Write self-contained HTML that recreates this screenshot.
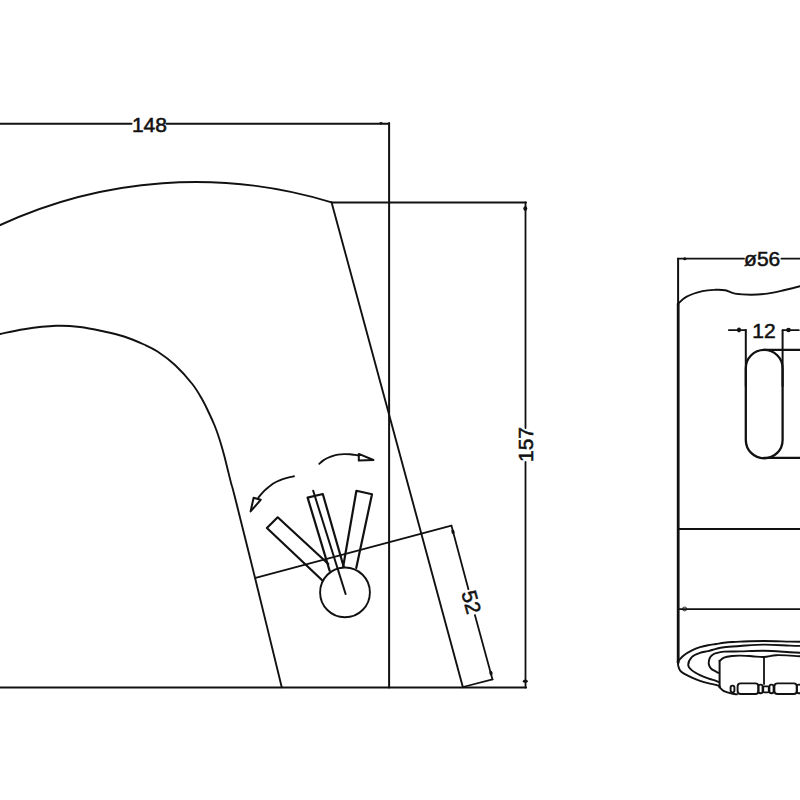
<!DOCTYPE html>
<html><head><meta charset="utf-8"><style>
html,body{margin:0;padding:0;background:#fff;}
body{width:800px;height:800px;overflow:hidden;}
svg{display:block;}
svg path, svg line, svg circle, svg rect{stroke:#111;fill:none;stroke-linecap:round;stroke-linejoin:round;}
svg text{font-family:"Liberation Sans", sans-serif;fill:#111;stroke:#111;stroke-width:0.55px;}
</style></head><body>
<svg width="800" height="800" viewBox="0 0 800 800">
<line x1="0.00" y1="123.80" x2="131.50" y2="123.80" stroke-width="2.1"/>
<line x1="166.50" y1="123.80" x2="389.10" y2="123.80" stroke-width="2.1"/>
<line x1="389.10" y1="123.00" x2="389.10" y2="687.50" stroke-width="2.0"/>
<text x="149.40" y="132.00" font-size="21" text-anchor="middle" >148</text>
<path d="M-2 226.03 A465 465 0 0 1 331.6 202.4" stroke-width="1.9" />
<line x1="331.60" y1="202.40" x2="526.00" y2="202.40" stroke-width="2.0"/>
<line x1="525.50" y1="202.40" x2="525.50" y2="428.00" stroke-width="1.8"/>
<line x1="525.50" y1="462.00" x2="525.50" y2="687.50" stroke-width="1.8"/>
<text x="533.20" y="444.50" font-size="21" text-anchor="middle" transform="rotate(-90.00 533.20 444.50)" >157</text>
<line x1="331.60" y1="202.40" x2="462.90" y2="687.20" stroke-width="1.9"/>
<line x1="-2.00" y1="687.50" x2="526.20" y2="687.50" stroke-width="1.8"/>
<path d="M-4.00 334.80 C-3.33 334.67 -4.67 334.93 0.00 334.00 C4.67 333.07 14.67 330.57 24.00 329.20 C33.33 327.83 46.67 326.17 56.00 325.80 C65.33 325.43 72.00 326.05 80.00 327.00 C88.00 327.95 96.67 329.92 104.00 331.50 C111.33 333.08 117.33 334.33 124.00 336.50 C130.67 338.67 138.42 342.00 144.00 344.50 C149.58 347.00 152.33 348.08 157.50 351.50 C162.67 354.92 169.17 359.54 175.00 365.00 C180.83 370.46 187.92 378.42 192.50 384.25 C197.08 390.08 199.79 395.29 202.50 400.00 C205.21 404.71 206.77 408.33 208.75 412.50 C210.73 416.67 212.84 421.25 214.40 425.00 C215.96 428.75 216.96 431.67 218.10 435.00 C219.24 438.33 220.20 441.46 221.25 445.00 C222.30 448.54 223.36 452.29 224.40 456.25 C225.44 460.21 226.36 464.17 227.50 468.75 C228.64 473.33 230.00 478.96 231.25 483.75 C232.50 488.54 230.54 479.79 235.00 497.50 C239.46 515.21 250.21 558.38 258.00 590.00 C265.79 621.62 277.79 671.00 281.75 687.20" stroke-width="1.9" />
<line x1="255.60" y1="577.90" x2="451.40" y2="525.60" stroke-width="1.8"/>
<line x1="451.40" y1="525.60" x2="468.40" y2="589.20" stroke-width="1.8"/>
<line x1="474.90" y1="615.00" x2="492.50" y2="679.40" stroke-width="1.8"/>
<line x1="492.50" y1="679.40" x2="463.00" y2="687.00" stroke-width="1.8"/>
<text x="471.60" y="602.00" font-size="21" text-anchor="middle" transform="rotate(74.70 471.60 602.00)" dominant-baseline="central">52</text>
<circle cx="345" cy="592.4" r="24.9" stroke-width="1.9"/>
<path d="M322.20 580.20 L266.90 528.00 L277.70 517.30 L328.30 564.00" stroke-width="2.2" />
<path d="M329.60 570.60 L307.60 497.60 L322.80 494.00 L343.75 567.00" stroke-width="2.2" />
<line x1="313.20" y1="490.80" x2="345.60" y2="594.00" stroke-width="2.0"/>
<path d="M343.10 567.00 L356.40 490.80 L372.00 494.20 L356.25 568.00" stroke-width="2.2" />
<path d="M319.30 463.80 C319.92 463.27 321.63 461.57 323.00 460.60 C324.37 459.63 325.83 458.80 327.50 458.00 C329.17 457.20 331.25 456.37 333.00 455.80 C334.75 455.23 336.17 454.88 338.00 454.60 C339.83 454.32 342.00 454.15 344.00 454.10 C346.00 454.05 348.17 454.17 350.00 454.30 C351.83 454.43 353.53 454.72 355.00 454.90 C356.47 455.08 358.17 455.32 358.80 455.40" stroke-width="1.9" />
<path d="M358.8 453.9 L373.4 460 L358.8 460.6 Z" stroke-width="2.0" />
<path d="M294.00 476.30 C293.00 476.52 289.88 477.12 288.00 477.60 C286.12 478.08 284.58 478.55 282.75 479.20 C280.92 479.85 278.71 480.70 277.00 481.50 C275.29 482.30 273.93 483.04 272.50 484.00 C271.07 484.96 269.90 485.98 268.40 487.25 C266.90 488.52 264.94 490.16 263.50 491.60 C262.06 493.04 260.62 494.87 259.75 495.90 C258.88 496.93 258.54 497.48 258.30 497.80" stroke-width="1.9" />
<path d="M253.6 497.8 L250.6 511.4 L260.7 499.8 Z" stroke-width="2.0" />
<ellipse cx="525.30" cy="208.60" rx="2.00" ry="2.40" transform="rotate(0.0 525.30 208.60)" style="fill:#111;stroke:none"/>
<ellipse cx="525.30" cy="681.20" rx="2.50" ry="1.60" transform="rotate(0.0 525.30 681.20)" style="fill:#111;stroke:none"/>
<ellipse cx="381.00" cy="123.20" rx="1.60" ry="1.30" transform="rotate(0.0 381.00 123.20)" style="fill:#111;stroke:none"/>
<ellipse cx="453.00" cy="531.80" rx="1.60" ry="2.30" transform="rotate(-15.0 453.00 531.80)" style="fill:#111;stroke:none"/>
<ellipse cx="491.00" cy="673.00" rx="1.60" ry="2.30" transform="rotate(-15.0 491.00 673.00)" style="fill:#111;stroke:none"/>
<line x1="678.10" y1="258.70" x2="678.10" y2="305.00" stroke-width="2.0"/>
<line x1="678.20" y1="304.00" x2="678.20" y2="662.50" stroke-width="2.8"/>
<line x1="677.80" y1="258.70" x2="744.00" y2="258.70" stroke-width="1.8"/>
<line x1="781.40" y1="258.70" x2="802.00" y2="258.70" stroke-width="1.8"/>
<text x="762.20" y="266.30" font-size="21" text-anchor="middle" >&#248;56</text>
<path d="M677.80 304.10 C679.21 302.88 682.13 298.97 686.25 296.80 C690.37 294.63 697.62 292.27 702.50 291.10 C707.38 289.93 711.71 289.93 715.50 289.80 C719.29 289.67 722.00 289.67 725.25 290.30 C728.50 290.93 730.67 292.87 735.00 293.60 C739.33 294.33 745.83 294.70 751.25 294.70 C756.67 294.70 762.08 294.33 767.50 293.60 C772.92 292.87 778.33 291.53 783.75 290.30 C789.17 289.07 795.62 287.47 800.00 286.25 C804.38 285.03 808.33 283.54 810.00 283.00" stroke-width="1.9" />
<line x1="728.80" y1="330.10" x2="745.80" y2="330.10" stroke-width="1.8"/>
<line x1="782.80" y1="330.20" x2="798.80" y2="330.20" stroke-width="1.8"/>
<line x1="745.80" y1="330.10" x2="745.80" y2="386.00" stroke-width="2.0"/>
<line x1="782.60" y1="330.20" x2="782.60" y2="386.00" stroke-width="2.0"/>
<text x="764.00" y="337.80" font-size="21" text-anchor="middle" >12</text>
<ellipse cx="739.00" cy="330.00" rx="2.00" ry="2.40" transform="rotate(0.0 739.00 330.00)" style="fill:#111;stroke:none"/>
<ellipse cx="788.50" cy="330.00" rx="2.30" ry="2.20" transform="rotate(0.0 788.50 330.00)" style="fill:#111;stroke:none"/>
<ellipse cx="684.80" cy="258.70" rx="1.70" ry="1.50" transform="rotate(0.0 684.80 258.70)" style="fill:#111;stroke:none"/>
<circle cx="684.6" cy="609" r="1.9" stroke-width="1.2" style="stroke:#555"/>
<rect x="745.8" y="349.9" width="36.8" height="108.4" rx="18.4" ry="18.4" stroke-width="2.3"/>
<line x1="764.00" y1="349.90" x2="802.00" y2="349.90" stroke-width="2.1"/>
<line x1="764.00" y1="457.90" x2="802.00" y2="457.90" stroke-width="2.1"/>
<line x1="677.80" y1="529.00" x2="802.00" y2="529.00" stroke-width="1.8"/>
<line x1="679.50" y1="609.10" x2="802.00" y2="609.10" stroke-width="1.7"/>
<path d="M677.80 661.50 C678.03 661.25 678.17 661.05 679.20 660.00 C680.23 658.95 681.87 656.80 684.00 655.20 C686.13 653.60 689.33 651.73 692.00 650.40 C694.67 649.07 697.33 648.07 700.00 647.20 C702.67 646.33 705.33 645.73 708.00 645.20 C710.67 644.67 713.33 644.40 716.00 644.00 C718.67 643.60 721.33 643.13 724.00 642.80 C726.67 642.47 729.33 642.20 732.00 642.00 C734.67 641.80 734.67 641.77 740.00 641.60 C745.33 641.43 755.67 641.00 764.00 641.00 C772.33 641.00 783.17 641.47 790.00 641.60 C796.83 641.73 802.50 641.77 805.00 641.80" stroke-width="1.9" />
<path d="M677.80 661.50 C677.90 662.32 678.03 664.92 678.40 666.40 C678.77 667.88 679.07 669.20 680.00 670.40 C680.93 671.60 682.00 672.40 684.00 673.60 C686.00 674.80 689.33 676.40 692.00 677.60 C694.67 678.80 697.33 679.87 700.00 680.80 C702.67 681.73 705.33 682.53 708.00 683.20 C710.67 683.87 714.07 684.30 716.00 684.80 C717.93 685.30 719.00 685.97 719.60 686.20" stroke-width="1.9" />
<path d="M718.40 682.00 C718.00 681.80 717.73 681.40 716.00 680.80 C714.27 680.20 710.67 679.33 708.00 678.40 C705.33 677.47 702.67 676.53 700.00 675.20 C697.33 673.87 693.97 672.10 692.00 670.40 C690.03 668.70 688.20 667.27 688.20 665.00 C688.20 662.73 690.03 658.83 692.00 656.80 C693.97 654.77 697.33 653.73 700.00 652.80 C702.67 651.87 705.33 651.87 708.00 651.20 C710.67 650.53 713.33 649.47 716.00 648.80 C718.67 648.13 720.00 647.67 724.00 647.20 C728.00 646.73 733.33 646.43 740.00 646.00 C746.67 645.57 755.67 644.67 764.00 644.60 C772.33 644.53 783.17 645.37 790.00 645.60 C796.83 645.83 802.50 645.93 805.00 646.00" stroke-width="1.9" />
<path d="M718.40 672.80 C717.20 672.13 712.80 670.27 711.20 668.80 C709.60 667.33 709.07 665.73 708.80 664.00 C708.53 662.27 709.07 659.87 709.60 658.40 C710.13 656.93 710.93 656.07 712.00 655.20 C713.07 654.33 714.00 653.80 716.00 653.20 C718.00 652.60 720.00 651.90 724.00 651.60 C728.00 651.30 733.33 651.53 740.00 651.40 C746.67 651.27 755.67 650.67 764.00 650.80 C772.33 650.93 783.17 651.83 790.00 652.20 C796.83 652.57 802.50 652.87 805.00 653.00" stroke-width="1.9" />
<path d="M719.60 661.00 C720.33 660.43 721.93 658.43 724.00 657.60 C726.07 656.77 729.33 656.33 732.00 656.00 C734.67 655.67 736.67 655.57 740.00 655.60 C743.33 655.63 748.00 655.97 752.00 656.20 C756.00 656.43 760.00 657.17 764.00 657.00 C768.00 656.83 771.67 655.43 776.00 655.20 C780.33 654.97 785.17 655.38 790.00 655.60 C794.83 655.82 802.50 656.35 805.00 656.50" stroke-width="1.9" />
<line x1="719.60" y1="660.80" x2="719.60" y2="687.20" stroke-width="2.0"/>
<line x1="764.00" y1="657.00" x2="764.00" y2="684.00" stroke-width="1.8"/>
<path d="M719.40 687.00 C720.17 687.70 721.90 690.10 724.00 691.20 C726.10 692.30 729.83 693.07 732.00 693.60 C734.17 694.13 736.17 694.27 737.00 694.40" stroke-width="1.9" />
<rect x="730.60" y="685.60" width="3.80" height="6.80" rx="1.8" stroke-width="1.9"/>
<rect x="737.60" y="683.40" width="20.80" height="10.60" rx="3.0" stroke-width="1.9"/>
<rect x="758.40" y="684.60" width="4.20" height="8.60" rx="2.0" stroke-width="1.9"/>
<rect x="763.20" y="686.40" width="5.60" height="6.00" rx="0.8" stroke-width="1.9"/>
<rect x="769.40" y="684.60" width="4.20" height="8.60" rx="2.0" stroke-width="1.9"/>
<rect x="774.40" y="683.40" width="22.40" height="10.60" rx="3.0" stroke-width="1.9"/>
<rect x="796.80" y="684.60" width="4.70" height="8.60" rx="2.0" stroke-width="1.9"/>
</svg>
</body></html>
